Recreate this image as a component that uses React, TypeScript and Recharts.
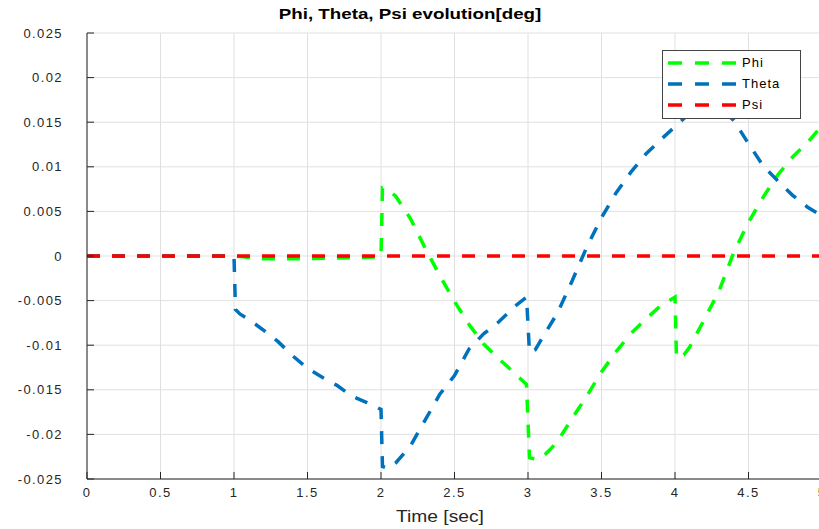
import React from 'react';
import { LineChart, Line, XAxis, YAxis, CartesianGrid, Legend } from 'recharts';

// time [sec] and angle [deg]
const phiTime = [0, 1, 1.2, 1.5, 1.8, 2, 2.01, 2.05, 2.1, 2.2, 2.3, 2.4, 2.5, 2.6, 2.7, 2.8, 2.9, 2.99, 3.01, 3.06, 3.1, 3.15, 3.2, 3.3, 3.4, 3.5, 3.6, 3.7, 3.8, 3.9, 4, 4.01, 4.06, 4.1, 4.2, 4.3, 4.4, 4.5, 4.6, 4.7, 4.8, 4.9, 5];
const phiDeg = [0, 0, -0.0003, -0.0003, -0.0002, -0.0001, 0.0076, 0.0074, 0.0067, 0.0042, 0.0009, -0.0022, -0.0051, -0.0077, -0.0099, -0.0115, -0.013, -0.0144, -0.0226, -0.0228, -0.0225, -0.0217, -0.0208, -0.0182, -0.0157, -0.013, -0.0107, -0.0087, -0.0071, -0.0056, -0.0046, -0.0114, -0.0111, -0.0102, -0.0071, -0.0039, 0.0004, 0.0038, 0.0066, 0.0091, 0.0111, 0.0127, 0.0146];

const thetaTime = [0, 1, 1.01, 1.04, 1.1, 1.2, 1.3, 1.4, 1.5, 1.6, 1.7, 1.8, 1.9, 2, 2.01, 2.05, 2.1, 2.2, 2.3, 2.4, 2.5, 2.6, 2.7, 2.8, 2.9, 2.99, 3.01, 3.05, 3.1, 3.2, 3.3, 3.4, 3.5, 3.6, 3.7, 3.8, 3.9, 4, 4.1, 4.2, 4.3, 4.4, 4.5, 4.6, 4.7, 4.8, 4.9, 5];
const thetaDeg = [0, 0, -0.006, -0.0065, -0.0071, -0.0083, -0.0096, -0.0112, -0.0126, -0.0136, -0.0145, -0.0157, -0.0164, -0.0172, -0.0236, -0.0238, -0.0232, -0.0213, -0.0184, -0.0155, -0.0134, -0.0104, -0.0087, -0.0074, -0.0058, -0.0046, -0.0108, -0.0105, -0.0091, -0.0064, -0.0028, 0.001, 0.0043, 0.0071, 0.0094, 0.0114, 0.013, 0.0145, 0.016, 0.0169, 0.0167, 0.0152, 0.0126, 0.0101, 0.0084, 0.0068, 0.0055, 0.0045];

const psiTime = [0, 5];
const psiDeg = [0, 0];

const seriesOrder = ['Phi', 'Theta', 'Psi'];
const xTicks = [0, 0.5, 1, 1.5, 2, 2.5, 3, 3.5, 4, 4.5, 5];
const yTicks = [-0.025, -0.02, -0.015, -0.01, -0.005, 0, 0.005, 0.01, 0.015, 0.02, 0.025];

const zip = (ts: number[], vs: number[]) => ts.map((t, i) => ({ t, v: vs[i] }));
const phiData = zip(phiTime, phiDeg);
const thetaData = zip(thetaTime, thetaDeg);
const psiData = zip(psiTime, psiDeg);

const font = '"Liberation Sans", Arial, sans-serif';
const axisColor = '#262626';
const tickStyle = { fontSize: 13, fill: axisColor, fontFamily: font, letterSpacing: 1.4 };
const dash = '13 12';

function MatlabLegend({ payload }: any) {
  const items = seriesOrder
    .map((name) => (payload || []).find((p: any) => p.value === name))
    .filter(Boolean);
  return (
    <div
      style={{
        width: 139,
        height: 69,
        background: '#fff',
        border: '1px solid #444',
        fontFamily: font,
        fontSize: 13,
        letterSpacing: 1,
        color: '#000',
        boxSizing: 'border-box',
        paddingTop: 1,
      }}
    >
      {items.map((p: any) => (
        <div key={p.value} style={{ display: 'flex', alignItems: 'center', height: 21 }}>
          <svg width={74} height={10} style={{ marginLeft: 5 }}>
            <line x1={0} y1={5} x2={68} y2={5} stroke={p.color} strokeWidth={3.5} strokeDasharray="14 13" />
          </svg>
          <span>{p.value}</span>
        </div>
      ))}
    </div>
  );
}

export default function App() {
  return (
    <div style={{ position: 'absolute', left: 0, top: 0, width: 819, height: 529, overflow: 'hidden', background: '#fff' }}>
      <div
        style={{
          position: 'absolute',
          left: 410,
          top: 5,
          transform: 'translateX(-50%) scaleX(1.25)',
          fontFamily: font,
          fontWeight: 'bold',
          fontSize: 15,
          whiteSpace: 'nowrap',
          color: '#000',
        }}
      >
        Phi, Theta, Psi evolution[deg]
      </div>
      <LineChart width={840} height={529} margin={{ top: 33, right: 18, bottom: 20, left: 0 }}>
        <CartesianGrid stroke="#e0e0e0" />
        <XAxis
          dataKey="t"
          type="number"
          domain={[0, 5]}
          ticks={xTicks}
          height={30}
          tickSize={-7}
          tickMargin={16}
          tick={tickStyle}
          stroke={axisColor}
          allowDuplicatedCategory={false}
        />
        <XAxis
          xAxisId="top"
          orientation="top"
          dataKey="t"
          type="number"
          domain={[0, 5]}
          ticks={xTicks}
          height={0}
          tickSize={-7}
          tick={false}
          stroke={axisColor}
        />
        <YAxis
          type="number"
          domain={[-0.025, 0.025]}
          ticks={yTicks}
          width={87}
          tickSize={-7}
          tickMargin={31}
          tick={tickStyle}
          stroke={axisColor}
          tickFormatter={(v: number) => String(v)}
        />
        <YAxis
          yAxisId="right"
          orientation="right"
          type="number"
          domain={[-0.025, 0.025]}
          ticks={yTicks}
          width={0}
          tickSize={-7}
          tick={false}
          stroke={axisColor}
        />
        <Legend
          layout="vertical"
          align="center"
          verticalAlign="middle"
          content={<MatlabLegend />}
          wrapperStyle={{ left: 662, top: 50, width: 139, height: 69 }}
        />
        <Line data={phiData} dataKey="v" name="Phi" type="linear" stroke="#00ff00" strokeWidth={3.5} strokeDasharray={dash} dot={false} isAnimationActive={false} />
        <Line data={thetaData} dataKey="v" name="Theta" type="linear" stroke="#0072bd" strokeWidth={3.5} strokeDasharray={dash} dot={false} isAnimationActive={false} />
        <Line data={psiData} dataKey="v" name="Psi" type="linear" stroke="#ff0000" strokeWidth={3.5} strokeDasharray={dash} dot={false} isAnimationActive={false} />
      </LineChart>
      <div
        style={{
          position: 'absolute',
          left: 440,
          top: 508,
          transform: 'translateX(-50%) scaleX(1.2)',
          fontFamily: font,
          fontSize: 16,
          whiteSpace: 'nowrap',
          color: axisColor,
        }}
      >
        Time [sec]
      </div>
    </div>
  );
}
